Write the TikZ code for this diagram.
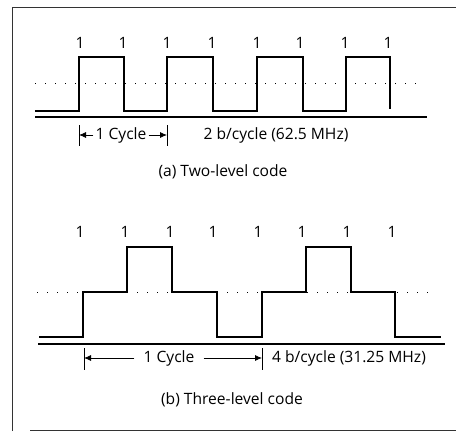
\documentclass[tikz,border=0pt]{standalone}
\usepackage{fontspec}
\setmainfont{Open Sans}
\usetikzlibrary{arrows.meta}
\begin{document}
\begin{tikzpicture}[x=1pt,y=-1pt,
  txt/.style={font=\fontsize{15.6}{18}\selectfont, inner sep=0pt},
  bit/.style={txt},
  wave/.style={line width=1.8pt, line join=miter},
  base/.style={line width=1.1pt},
  midline/.style={line width=1pt, dotted, dash pattern=on 1pt off 9pt},
  tick/.style={line width=0.9pt},
  dim/.style={line width=0.8pt, -{Latex[length=7pt,width=6pt]}},
  frame/.style={line width=0.8pt, black!80}]
\useasboundingbox (0,0) rectangle (456,432);
% frame
\draw[frame] (12,431) -- (12,7) -- (456,7);
\draw[frame] (30,430) -- (456,430);

% ---------- (a) two-level code ----------
\foreach \x [count=\i] in {80,123,167,212,257,300,345,388}
  \node[bit] (a\i) at (\x,43) {1};
\draw[midline] (35,83) -- (420,83);
\draw[wave] (35,111) -- (79,111) -- (79,57) -- (124,57) -- (124,111) -- (167,111)
  -- (167,57) -- (213,57) -- (213,111) -- (257,111) -- (257,57) -- (303,57)
  -- (303,111) -- (346,111) -- (346,57) -- (390,57) -- (390,109);
\draw[base] (35,117) -- (427,117);
\coordinate (ta) at (79,135);
\coordinate (tb) at (167,135);
\draw[tick] (79,125) -- (79,146);
\draw[tick] (167,125) -- (167,146);
\node[txt, inner xsep=2pt] (cyca) at (121,135) {1 Cycle};
\draw[dim] (cyca.west) -- (ta);
\draw[dim] (cyca.east) -- (tb);
\node[txt] (rate-a) at (276,135) {2 b/cycle (62.5 MHz)};
\node[txt] (cap-a) at (223,172) {(a) Two-level code};

% ---------- (b) three-level code ----------
\foreach \x [count=\i] in {80,125,170,213,258,302,347,392}
  \node[bit] (b\i) at (\x,232) {1};
\draw[midline] (37,292) -- (436,292);
\draw[wave] (39,337) -- (83,337) -- (83,292) -- (127,292) -- (127,247) -- (172,247)
  -- (172,292) -- (217,292) -- (217,337) -- (262,337) -- (262,292) -- (306,292)
  -- (306,247) -- (351,247) -- (351,292) -- (395,292) -- (395,337) -- (441,337);
\draw[base] (38,344) -- (445,344);
\coordinate (tc) at (84,358);
\coordinate (td) at (262,358);
\draw[tick] (84,348) -- (84,370);
\draw[tick] (262,348) -- (262,370);
\node[txt, inner xsep=9pt] (cycb) at (169,358) {1 Cycle};
\draw[dim] (cycb.west) -- (tc);
\draw[dim] (cycb.east) -- (td);
\node[txt] (rate-b) at (349,358) {4 b/cycle (31.25 MHz)};
\node[txt] (cap-b) at (232,400) {(b) Three-level code};
\end{tikzpicture}
\end{document}
